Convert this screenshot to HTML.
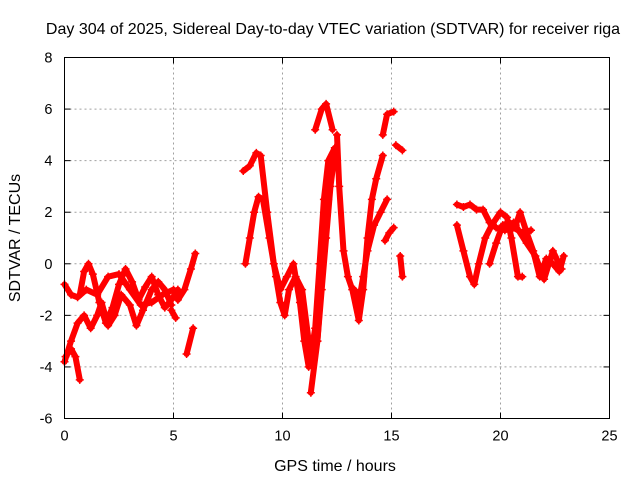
<!DOCTYPE html>
<html><head><meta charset="utf-8"><style>
body{margin:0;background:#fff}
svg{display:block;font-family:"Liberation Sans",sans-serif}
</style></head><body>
<svg id="chart" width="640" height="480" viewBox="0 0 640 480">
<rect width="640" height="480" fill="#fff"/>
<text x="333" y="34" font-size="16" text-anchor="middle">Day 304 of 2025, Sidereal Day-to-day VTEC variation (SDTVAR) for receiver riga</text>
<text x="335" y="471" font-size="16" text-anchor="middle">GPS time / hours</text>
<text transform="translate(20,238) rotate(-90)" font-size="16" text-anchor="middle">SDTVAR / TECUs</text>
<g id="grid"></g>
<g id="ticks"></g>
<g id="marks"></g>
<rect x="64.5" y="57.5" width="545" height="361" fill="none" stroke="#000"/>
</svg>
<script>
const xTicks=[0,5,10,15,20,25];
const yTicks=[-6,-4,-2,0,2,4,6,8];
const trackA_x=[0.0,0.3,0.6,1.0,1.5,2.0,2.5,3.0,3.5,4.0,4.5,5.0,5.3];
const trackA_y=[-0.8,-1.2,-1.3,-1.0,-1.2,-0.5,-0.4,-1.0,-1.6,-1.5,-1.2,-1.0,-1.2];
const trackB_x=[0.0,0.3,0.6,0.9,1.2,1.5,1.7,2.0,2.3,2.6,3.0,3.3,3.6,4.0,4.3,4.6,4.9];
const trackB_y=[-3.8,-3.0,-2.3,-2.0,-2.5,-2.0,-1.5,-2.4,-2.0,-1.2,-1.6,-2.4,-1.8,-1.0,-0.7,-1.0,-1.6];
const trackC_x=[0.7,0.9,1.1,1.3,1.6,1.9,2.2,2.5,2.8,3.1,3.4,3.7,4.0,4.3,4.6,4.9,5.2];
const trackC_y=[-1.2,-0.3,0.0,-0.4,-1.5,-2.3,-1.7,-0.8,-0.2,-0.7,-1.4,-0.9,-0.5,-1.2,-1.7,-1.4,-1.0];
const trackD_x=[0.05,0.3,0.5,0.7];
const trackD_y=[-3.6,-3.3,-3.6,-4.5];
const trackE_x=[5.2,5.5,5.8,6.0];
const trackE_y=[-1.4,-1.0,-0.2,0.4];
const trackF_x=[5.6,5.9];
const trackF_y=[-3.5,-2.5];
const trackG_x=[4.9,5.1];
const trackG_y=[-1.8,-2.1];
const trackH_x=[8.3,8.5,8.7,8.9,9.1,9.4,9.7,9.9,10.1,10.3,10.6,10.9,11.2,11.4,11.6,11.8,12.0,12.2,12.4];
const trackH_y=[0.0,1.0,2.0,2.6,2.5,1.0,-0.5,-1.5,-2.0,-1.0,-0.5,-1.0,-3.0,-3.5,-3.0,-1.0,1.0,3.0,4.3];
const trackI_x=[8.2,8.5,8.8,9.0,9.3,9.6,9.9,10.2,10.5,10.8,11.0,11.2,11.5,11.7,11.9,12.1,12.4];
const trackI_y=[3.6,3.8,4.3,4.2,2.0,0.0,-1.0,-0.5,0.0,-1.5,-3.0,-4.0,-2.5,0.0,2.5,4.0,4.5];
const trackJ_x=[11.3,11.6,11.9,12.1];
const trackJ_y=[-5.0,-3.0,0.5,2.5];
const trackK_x=[11.5,11.8,12.0,12.3];
const trackK_y=[5.2,6.0,6.2,5.2];
const trackL_x=[12.5,12.6,12.8,13.0,13.2,13.5,13.7,13.9,14.1,14.3,14.6];
const trackL_y=[5.0,3.0,0.5,-0.5,-1.0,-2.2,-1.0,1.0,2.5,3.3,4.2];
const trackM_x=[13.3,13.5,13.7,13.9,14.2,14.5,14.8];
const trackM_y=[-1.0,-1.5,-0.5,0.5,1.5,2.0,2.5];
const trackN_x=[14.6,14.8,15.1];
const trackN_y=[5.0,5.8,5.9];
const trackO_x=[15.2,15.5];
const trackO_y=[4.6,4.4];
const trackP_x=[15.4,15.5];
const trackP_y=[0.3,-0.5];
const trackQ_x=[14.7,14.9,15.1];
const trackQ_y=[0.9,1.2,1.4];
const trackR_x=[18.0,18.3,18.6,18.9,19.2,19.5,19.8,20.2,20.6,21.0,21.4];
const trackR_y=[2.3,2.2,2.3,2.1,2.1,1.6,1.4,1.3,1.4,1.2,1.3];
const trackS_x=[18.0,18.3,18.6,18.8,19.0,19.3,19.6,20.0,20.3,20.5,20.8,21.0];
const trackS_y=[1.5,0.5,-0.5,-0.8,0.0,1.0,1.5,2.0,1.8,1.0,-0.5,-0.5];
const trackT_x=[19.5,19.8,20.1,20.4,20.7,20.9,21.2,21.5,21.8,22.1,22.4,22.7,22.9];
const trackT_y=[0.0,0.8,1.5,1.6,1.5,2.0,1.2,0.5,-0.5,0.2,0.0,-0.3,0.3];
const trackU_x=[20.6,21.2,21.6,22.0,22.4,22.8];
const trackU_y=[1.6,0.8,0.3,-0.6,0.5,-0.2];
const tracks=[[trackA_x,trackA_y],[trackB_x,trackB_y],[trackC_x,trackC_y],[trackD_x,trackD_y],[trackE_x,trackE_y],[trackF_x,trackF_y],[trackG_x,trackG_y],[trackH_x,trackH_y],[trackI_x,trackI_y],[trackJ_x,trackJ_y],[trackK_x,trackK_y],[trackL_x,trackL_y],[trackM_x,trackM_y],[trackN_x,trackN_y],[trackO_x,trackO_y],[trackP_x,trackP_y],[trackQ_x,trackQ_y],[trackR_x,trackR_y],[trackS_x,trackS_y],[trackT_x,trackT_y],[trackU_x,trackU_y]];
const NS='http://www.w3.org/2000/svg';
const L=64.5,R=609.5,T=57.5,B=418.5;
function sx(v){return L+(v-0)/(25-0)*(R-L);}
function sy(v){return B-(v+6)/(14)*(B-T);}
const grid=document.getElementById('grid'),ticks=document.getElementById('ticks'),marks=document.getElementById('marks');
function mk(tag,attrs,parent){const e=document.createElementNS(NS,tag);for(const k in attrs)e.setAttribute(k,attrs[k]);parent.appendChild(e);return e;}
xTicks.forEach(v=>{
  const x=sx(v);
  if(v>0&&v<25){const g=mk('line',{x1:x,x2:x,y1:T,y2:B,stroke:'#a0a0a0','stroke-dasharray':'2,3'},grid);
  
  }
  const t1=mk('line',{x1:x,x2:x,y1:B,y2:B-6,stroke:'#000'},ticks);
  
  
  const t2=mk('line',{x1:x,x2:x,y1:T,y2:T+6,stroke:'#000'},ticks);
  
  
  const lb=mk('text',{x:x,y:B+22,'font-size':14.5,'text-anchor':'middle'},ticks);
  lb.textContent=v;
  
  
});
yTicks.forEach(v=>{
  const y=sy(v);
  if(v>-6&&v<8){const g=mk('line',{x1:L,x2:R,y1:y,y2:y,stroke:'#a0a0a0','stroke-dasharray':'2,3'},grid);
  
  }
  const t1=mk('line',{x1:L,x2:L+6,y1:y,y2:y,stroke:'#000'},ticks);
  
  
  const t2=mk('line',{x1:R,x2:R-6,y1:y,y2:y,stroke:'#000'},ticks);
  
  
  const lb=mk('text',{x:L-12,y:y+5,'font-size':14.5,'text-anchor':'end'},ticks);
  lb.textContent=v;
  
  
});
tracks.forEach(tr=>{
  const xs=tr[0],ys=tr[1];
  let d='';
  for(let i=0;i<xs.length;i++)d+=(i?'L':'M')+sx(xs[i]).toFixed(1)+','+sy(ys[i]).toFixed(1);
  const p=mk('path',{d:d,fill:'none',stroke:'#ff0000','stroke-width':6,'stroke-linejoin':'round','stroke-linecap':'round'},marks);
  
  
  for(let i=0;i<xs.length;i++){
    const x=sx(xs[i]),y=sy(ys[i]);
    const m=mk('path',{d:`M${x-4},${y}H${x+4}M${x},${y-4}V${y+4}`,stroke:'#ff0000','stroke-width':1.5},marks);
    
    
  }
});
</script>
</body></html>
